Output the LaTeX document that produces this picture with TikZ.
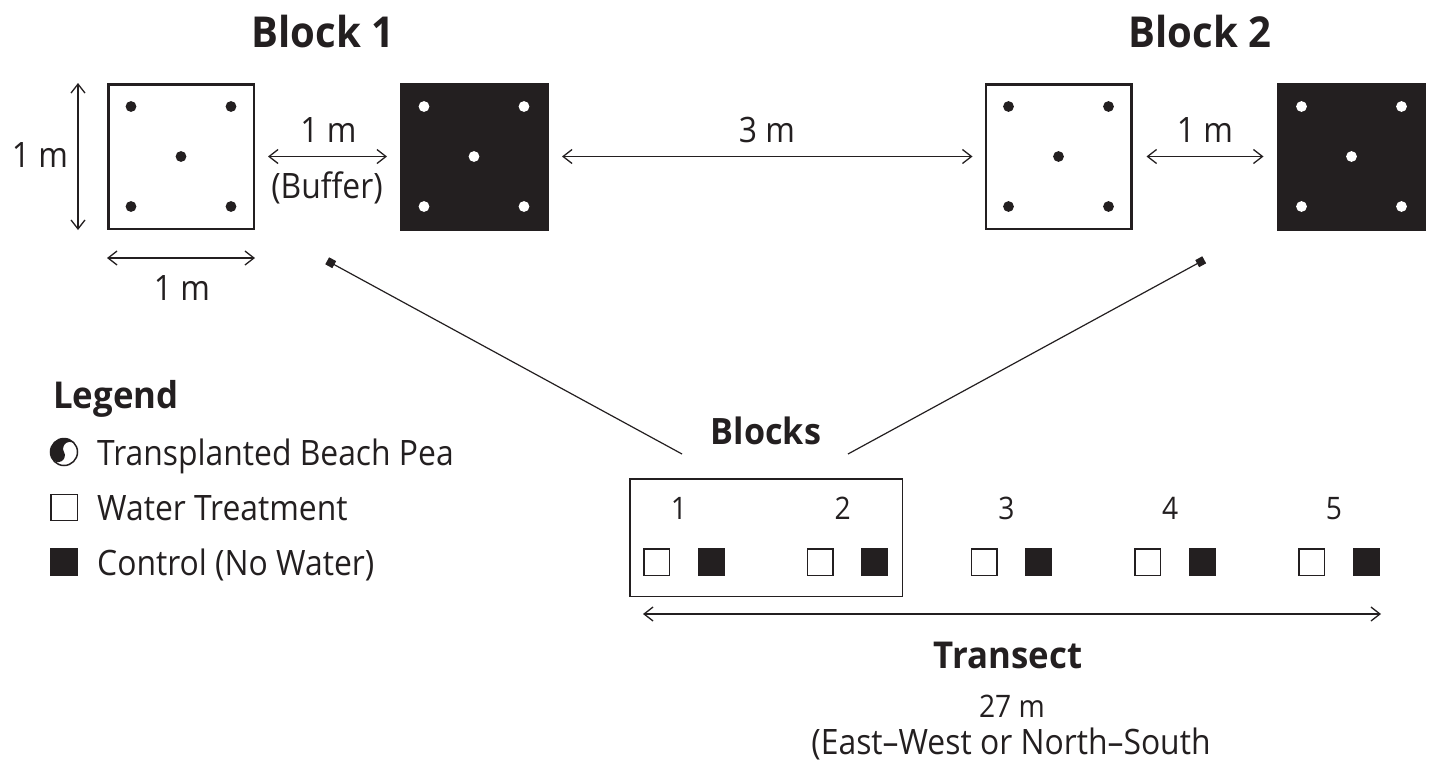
\documentclass[tikz,border=0pt]{standalone}
\usepackage{fontspec}
\setmainfont{Open Sans}[FakeStretch=0.91, BoldFeatures={FakeStretch=0.94}]
\usetikzlibrary{arrows.meta}
\definecolor{ink}{RGB}{35,31,32}

\tikzset{
  dim/.style={line width=1.3pt, draw=ink,
    {Straight Barb[length=9pt,width=14pt]}-{Straight Barb[length=9pt,width=14pt]}},
  lbl/.style={font=\fontsize{35}{40}\selectfont, text=ink, anchor=base, inner sep=0pt},
  num/.style={font=\fontsize{31}{36}\selectfont, text=ink, anchor=base, inner sep=0pt},
  ttl/.style={font=\fontsize{42.6}{48}\selectfont\bfseries, text=ink, anchor=base, inner sep=0pt},
  sub/.style={font=\fontsize{36.3}{42}\selectfont\bfseries, text=ink, anchor=base, inner sep=0pt},
  plotw/.style={draw=ink, fill=white, line width=2.5pt, inner sep=0pt,
    minimum width=145.5pt, minimum height=144.5pt},
  plotb/.style={draw=ink, fill=ink, line width=0pt, inner sep=0pt,
    minimum width=148pt, minimum height=147pt},
  minw/.style={draw=ink, fill=white, line width=1.5pt, inner sep=0pt,
    minimum width=25.5pt, minimum height=26.5pt},
  minb/.style={draw=ink, fill=ink, line width=1.5pt, inner sep=0pt,
    minimum width=25.5pt, minimum height=26.5pt},
  link/.style={line width=1.2pt, draw=ink, -{Square[length=8pt,width=8pt]}},
}

\begin{document}
\begin{tikzpicture}[x=1pt,y=-1pt]
\useasboundingbox (0,0) rectangle (1432,761);

% ---- Block titles
\node[ttl] (t1) at (323,47) {Block 1};
\node[ttl] (t2) at (1200,47) {Block 2};

% ---- plots of the two blocks
\node[plotw] (w1) at (181,156.5) {};
\node[plotb] (b1) at (474,156.5) {};
\node[plotw] (w2) at (1058.5,156.5) {};
\node[plotb] (b2) at (1351.5,156.5) {};

% planting positions inside the plots
\foreach \p/\c in {w1/ink, b1/white, w2/ink, b2/white}{
  \foreach \dx/\dy in {-50/-50, 50/-50, 0/0, -50/50, 50/50}{
    \fill[\c] (\p.center) ++(\dx,\dy) circle (5.4);
  }
}

% ---- dimensions
\draw[dim] ([xshift=-29pt]w1.north west) -- ([xshift=-29pt]w1.south west);
\node[lbl] (d1) at (40,167) {1 m};
\draw[dim] ([yshift=-28pt]w1.south west) -- ([yshift=-28pt]w1.south east);
\node[lbl] (d2) at (182,300) {1 m};

\draw[dim] ([xshift=13pt]w1.east) -- ([xshift=-13pt]b1.west);
\node[lbl] (d3) at (328.5,142) {1 m};
\node[lbl] (buf) at (327,198) {(Buffer)};

\draw[dim] ([xshift=14pt]b1.east) -- ([xshift=-12pt]w2.west);
\node[lbl] (d4) at (767,142) {3 m};

\draw[dim] ([xshift=14pt]w2.east) -- ([xshift=-14pt]b2.west);
\node[lbl] (d5) at (1205,142) {1 m};

% ---- legend
\node[sub, font=\fontsize{37}{42}\selectfont\bfseries, anchor=base west] (leg) at (53,408) {Legend};
\begin{scope}[shift={(64,452)}, yscale=-1]
  \fill[ink] (30:13.5) arc[start angle=30, end angle=210, radius=13.5]
    arc[start angle=210, end angle=390, radius=6.75]
    arc[start angle=210, end angle=30, radius=6.75] -- cycle;
  \draw[ink, line width=1.5pt] (0,0) circle (13.5);
  \coordinate (ipea) at (0,0);
\end{scope}
\node[lbl, anchor=base west] (lpea) at (97,465) {Transplanted Beach Pea};
\node[minw, minimum width=26.5pt, minimum height=26pt] (iw) at (64,507.5) {};
\node[lbl, anchor=base west] (lw) at (97,520) {Water Treatment};
\node[minb, minimum width=26.5pt, minimum height=26pt] (ib) at (64,562) {};
\node[lbl, anchor=base west] (lb) at (97,575) {Control (No Water)};

% ---- transect overview
\node[sub] (blk) at (766,444) {Blocks};
\node[draw=ink, line width=1.5pt, inner sep=0pt, minimum width=272.5pt, minimum height=117.5pt] (frame) at (766,537.5) {};

\foreach \i in {1,...,5}{
  \pgfmathsetmacro{\xo}{163.75*(\i-1)}
  \node[num] (n\i) at (679+\xo,519) {\i};
  \node[minw] (sw\i) at (656.5+\xo,562) {};
  \node[minb] (sb\i) at (711+\xo,562) {};
}

\coordinate (tL) at (643,614);
\coordinate (tR) at (1381,614);
\draw[dim] (tL) -- (tR);
\node[sub, font=\fontsize{37}{42}\selectfont\bfseries] (tr) at (1008,668) {Transect};
\node[num] (len) at (1012,717) {27 m};
\node[lbl] (dir) at (1011,754) {(East–West or North–South};

% ---- links from the overview to the two blocks
\coordinate (l1) at (682,454);
\coordinate (l2) at (848,454);
\coordinate (m1) at (327.2,260.8);
\coordinate (m2) at (1204.2,259.8);
\draw[link] (l1) -- (m1);
\draw[link] (l2) -- (m2);
\end{tikzpicture}
\end{document}
